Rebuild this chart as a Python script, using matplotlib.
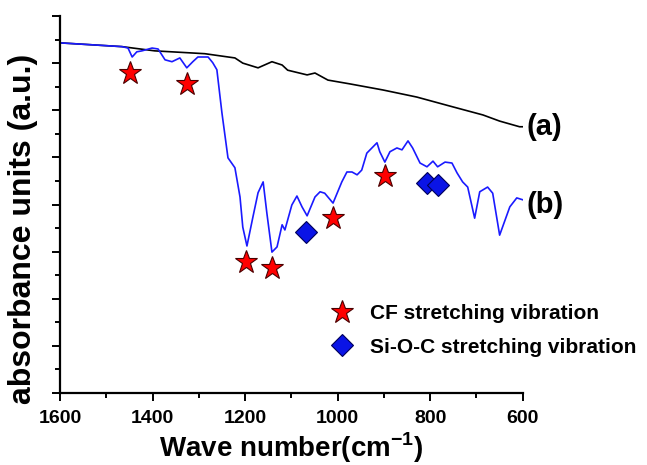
import numpy as np
import matplotlib
matplotlib.use("Agg")
import matplotlib.pyplot as plt
from matplotlib.lines import Line2D

plt.rcParams["font.family"] = ["Liberation Sans", "DejaVu Sans"]
plt.rcParams["font.weight"] = "bold"
plt.rcParams["mathtext.fontset"] = "custom"
plt.rcParams["mathtext.rm"] = "Liberation Sans:bold"
plt.rcParams["mathtext.bf"] = "Liberation Sans:bold"

# curve (a): black
wn_a = [1600, 1466, 1395, 1287, 1222, 1205, 1172, 1142, 1120, 1108, 1066,
        1049, 1021, 974, 902, 829, 758, 686, 650, 607, 600]
abs_a = [7.43, 7.35, 7.26, 7.20, 7.11, 7.00, 6.90, 7.03, 6.96, 6.85, 6.75,
         6.79, 6.64, 6.56, 6.43, 6.28, 6.09, 5.90, 5.77, 5.65, 5.65]

# curve (b): blue
wn_b = [1600, 1466, 1453, 1444, 1434, 1423, 1401, 1388, 1373, 1358, 1341,
        1326, 1313, 1302, 1280, 1270, 1261, 1250, 1237, 1222, 1211, 1205,
        1196, 1183, 1172, 1161, 1153, 1142, 1131, 1120, 1114, 1099, 1088,
        1077, 1066, 1049, 1038, 1028, 1010, 991, 980, 969, 958, 948, 937,
        915, 909, 898, 887, 872, 861, 848, 838, 822, 807, 794, 784, 768,
        753, 742, 730, 719, 704, 693, 676, 665, 650, 628, 613, 600]
abs_b = [7.43, 7.35, 7.32, 7.13, 7.24, 7.26, 7.32, 7.30, 7.07, 7.03, 7.11,
         6.90, 7.03, 7.13, 7.13, 7.01, 6.86, 5.94, 4.99, 4.78, 4.16, 3.52,
         3.12, 3.74, 4.25, 4.48, 3.82, 2.99, 3.10, 3.57, 3.46, 3.99, 4.18,
         3.95, 3.76, 4.16, 4.27, 4.24, 4.03, 4.48, 4.69, 4.69, 4.63, 4.73, 5.09,
         5.31, 5.12, 4.90, 5.12, 5.20, 5.16, 5.35, 5.20, 4.88, 4.80, 4.92, 4.80, 4.90,
         4.88, 4.67, 4.48, 4.37, 3.71, 4.27, 4.37, 4.24, 3.35, 3.95, 4.14, 4.10]

# band markers
cf_wn = [1449, 1326, 1198, 1142, 1010, 898]
cf_y = [6.79, 6.56, 2.78, 2.65, 3.72, 4.61]
sioc_wn = [1069, 807, 784]
sioc_y = [3.42, 4.46, 4.42]

star = dict(ls="none", marker="*", ms=17, mfc="red", mec="#4a0000", mew=0.8)
diamond = dict(ls="none", marker="D", ms=11, mfc="#0a14e6", mec="#00005a", mew=0.8)

fig = plt.figure(figsize=(6.47, 4.65), dpi=100)
ax = fig.add_axes([0.0927, 0.1548, 0.7153, 0.8108])

ax.plot(wn_a, abs_a, color="black", lw=1.2)
ax.plot(wn_b, abs_b, color="#1a1aff", lw=1.2)

ax.plot(cf_wn, cf_y, **star)
ax.plot(sioc_wn, sioc_y, **diamond)

ax.set_xlim(1600, 600)
ax.set_ylim(0, 8)
ax.set_xticks([1600, 1400, 1200, 1000, 800, 600])
ax.set_xticks([1500, 1300, 1100, 900, 700], minor=True)
ax.set_yticks(np.arange(0, 8.01, 1))
ax.set_yticks(np.arange(0.5, 8, 1), minor=True)
ax.set_yticklabels([])
ax.tick_params(axis="both", which="major", direction="out", length=6, width=1.4)
ax.tick_params(axis="both", which="minor", direction="out", length=3.5, width=1.4)
ax.tick_params(axis="x", labelsize=14, pad=6)
for lbl in ax.get_xticklabels():
    lbl.set_fontweight("bold")

for side in ["top", "right"]:
    ax.spines[side].set_visible(False)
for side in ["left", "bottom"]:
    ax.spines[side].set_linewidth(1.6)

ax.set_xlabel("Wave number(cm$^{-1}$)", fontsize=20, fontweight="bold", labelpad=3)
ax.set_ylabel("absorbance units (a.u.)", fontsize=23, fontweight="bold", labelpad=6, y=0.435)

ax.text(592, 5.65, "(a)", fontsize=21, fontweight="bold", va="center", ha="left", clip_on=False)
ax.text(592, 3.99, "(b)", fontsize=21, fontweight="bold", va="center", ha="left", clip_on=False)

handles = [Line2D([], [], **star), Line2D([], [], **diamond)]
leg = ax.legend(handles, ["CF stretching vibration", "Si-O-C stretching vibration"],
                loc="upper left", bbox_to_anchor=(0.546, 0.258), frameon=False,
                prop={"size": 15, "weight": "bold"}, handletextpad=0.35,
                labelspacing=0.7, borderaxespad=0)

plt.savefig("out.png", dpi=100)
